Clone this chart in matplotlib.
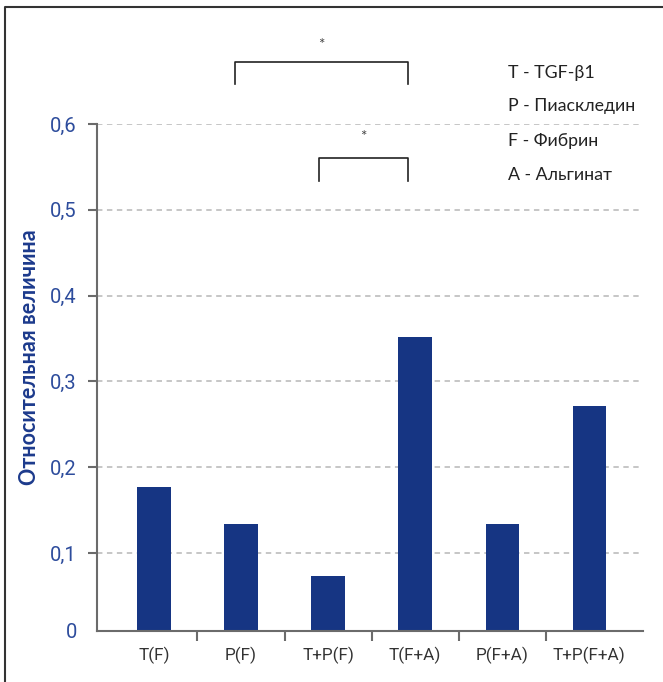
import matplotlib
matplotlib.use('Agg')
import matplotlib.pyplot as plt
from matplotlib.lines import Line2D
import numpy as np

plt.rcParams['font.family'] = ['Lato', 'DejaVu Sans']

# data
groups = ['T(F)', 'P(F)', 'T+P(F)', 'T(F+A)', 'P(F+A)', 'T+P(F+A)']
values = [0.177, 0.134, 0.073, 0.352, 0.134, 0.271]
yticks = [0.1, 0.2, 0.3, 0.4, 0.5, 0.6]
ytick_labels = ['0,1', '0,2', '0,3', '0,4', '0,5', '0,6']
legend_lines = ['T - TGF-β1', 'P - Пиаскледин', 'F - Фибрин', 'A - Альгинат']
# significance brackets: (left, right, bracket y, leg end y, star y)
brackets = [(0.93, 2.92, 0.6725, 0.647, 0.692),
            (1.90, 2.92, 0.5606, 0.534, 0.585)]

bar_color = '#163583'
axis_color = '#6b6b6b'
tick_blue = '#2d4c9c'

fig = plt.figure(figsize=(6.63, 6.82), dpi=100)
ax = fig.add_axes([97/663, 51/682, 546/663, 507/682])

x = np.arange(len(groups))
ax.bar(x, values, width=0.38, color=bar_color, zorder=3)

ybottom = 0.0093
ax.set_ylim(ybottom, 0.6)
ax.set_xlim(-0.655, 5.62)

ax.set_yticks([ybottom] + yticks)
ax.set_yticklabels(['0'] + ytick_labels, color=tick_blue, fontsize=14.5,
                   family=['Roboto', 'DejaVu Sans'])
ax.yaxis.get_major_ticks()[0].tick1line.set_visible(False)
ax.tick_params(axis='y', length=6.5, width=1.5, color=axis_color, pad=8)

ax.set_xticks(x)
ax.set_xticklabels(groups, color='#333333', fontsize=12.3,
                   family=['Roboto', 'DejaVu Sans'])
ax.set_xticks(x[:-1] + 0.5, minor=True)
ax.tick_params(axis='x', which='major', length=0, pad=11)
ax.tick_params(axis='x', which='minor', length=7, width=1.5, color=axis_color, direction='out')

ax.yaxis.grid(True, color='#c2c2c2', linestyle=(0, (3, 2.5)), linewidth=1.3, zorder=0)
ax.set_axisbelow(True)

for s in ['top', 'right']:
    ax.spines[s].set_visible(False)
for s in ['left', 'bottom']:
    ax.spines[s].set_color(axis_color)
    ax.spines[s].set_linewidth(1.5)
    ax.spines[s].set_zorder(4)

# significance brackets
for x0, x1, yb, yl, ys in brackets:
    ax.plot([x0, x0, x1, x1], [yl, yb, yb, yl], color='#222222', lw=1.2, clip_on=False)
    ax.text((x0 + x1) / 2, ys, '*', ha='center', va='center', fontsize=11, color='#444444')

# legend-like notes
ys_leg = [73, 106, 141, 175]
for t, yp in zip(legend_lines, ys_leg):
    fig.text(508/663, 1 - yp/682, t, ha='left', va='center', fontsize=12.8, color='#222222')

fig.text(30/663, 1 - 357/682, 'Относительная величина', rotation=90, ha='center', va='center',
         fontsize=15.5, fontweight='bold', color='#1c3a8c')

# outer frame (top and left edges)
fig.add_artist(Line2D([4.5/663, 4.5/663, 1.0], [0.0, 1 - 6.5/682, 1 - 6.5/682],
                      transform=fig.transFigure, color='#333333', lw=1.5))

fig.savefig('out.png', dpi=100)
